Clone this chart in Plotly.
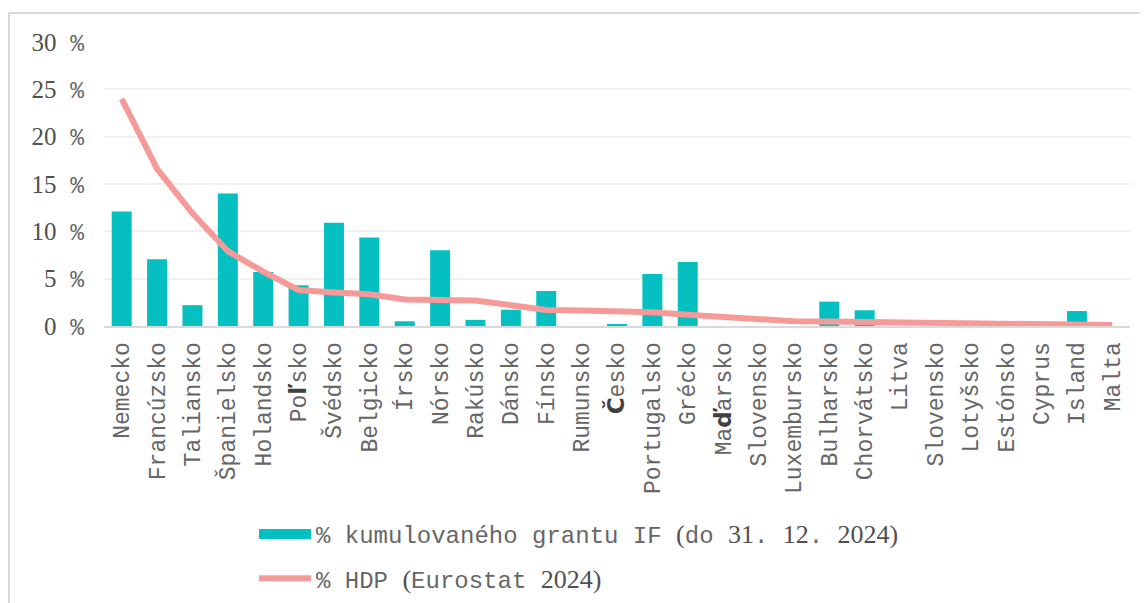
import plotly.graph_objects as go

countries = ["Nemecko", "Francúzsko", "Taliansko", "Španielsko", "Holandsko", "Poľsko",
             "Švédsko", "Belgicko", "Írsko", "Nórsko", "Rakúsko", "Dánsko", "Fínsko",
             "Rumunsko", "Česko", "Portugalsko", "Grécko", "Maďarsko", "Slovensko",
             "Luxembursko", "Bulharsko", "Chorvátsko", "Litva", "Slovensko", "Lotyšsko",
             "Estónsko", "Cyprus", "Island", "Malta"]
grant_pct = [12.1, 7.05, 2.2, 14.0, 5.7, 4.3, 10.9, 9.35, 0.5, 8.0, 0.65, 1.72, 3.7,
             0.0, 0.2, 5.5, 6.76, 0.0, 0.0, 0.0, 2.57, 1.66, 0.0, 0.0, 0.0, 0.0, 0.0,
             1.58, 0.0]
gdp_pct = [24.0, 16.6, 11.9, 7.9, 5.75, 3.8, 3.55, 3.35, 2.8, 2.75, 2.7, 2.2, 1.7,
           1.65, 1.6, 1.45, 1.2, 1.0, 0.68, 0.5, 0.47, 0.42, 0.38, 0.34, 0.28, 0.24,
           0.2, 0.16, 0.1]
y_ticks = [0, 5, 10, 15, 20, 25, 30]
legend_grant_text = "% kumulovaného grantu IF (do 31. 12. 2024)"
legend_gdp_text = "% HDP (Eurostat 2024)"

TEAL = "#06BFC0"
PINK = "#F59A98"
MONO = "Liberation Mono"
SERIF = "Liberation Serif"
TEXT = "#666666"

SERIF_CHARS = set("0123456789()")
BOLD_CHARS = set("Čďľ")


def mixed(text, serif_size=25):
    out = ""
    for ch in text:
        if ch in SERIF_CHARS:
            out += (f"<span style='font-family:{SERIF};font-size:{serif_size}px;"
                    f"fill:#505050'>{ch}</span>")
        elif ch in BOLD_CHARS:
            out += ("<span style='font-family:DejaVu Sans;font-weight:bold;"
                    f"fill:#404040'>{ch}</span>")
        else:
            out += ch
    return out


xs = list(range(len(countries)))

fig = go.Figure()
fig.add_trace(go.Bar(
    x=xs, y=grant_pct, marker=dict(color=TEAL, line=dict(width=0)),
    showlegend=False, hoverinfo="skip"))
fig.add_trace(go.Scatter(
    x=xs, y=gdp_pct, mode="lines", line=dict(color=PINK, width=6),
    showlegend=False, hoverinfo="skip"))
# legend entries
fig.add_trace(go.Scatter(
    x=[None], y=[None], mode="lines", line=dict(color=TEAL, width=12),
    name=mixed(legend_grant_text, 26), legendgroup="a"))
fig.add_trace(go.Scatter(
    x=[None], y=[None], mode="lines", line=dict(color=PINK, width=6),
    name=mixed(legend_gdp_text, 26), legendgroup="b"))

# page body has an 8px margin: work in screen pixels, shift by OFF
OFF = 8
SW, SH = 1148, 603
W, H = SW - OFF, SH - OFF
plot_left, plot_right, plot_top, plot_bottom = 104, 1130, 42, 326  # screen px
L = plot_left - OFF
R = SW - plot_right
T = plot_top - OFF
B = SH - plot_bottom
pw, ph = plot_right - plot_left, plot_bottom - plot_top


def px_x(p):
    return (p - plot_left) / pw


def px_y(p):
    return (plot_bottom - p) / ph


fig.update_layout(
    width=W, height=H,
    margin=dict(l=L, r=R, t=T, b=B, pad=0, autoexpand=False),
    paper_bgcolor="white", plot_bgcolor="white",
    bargap=0.435,
    font=dict(family=MONO, color=TEXT, size=23),
    legend=dict(
        x=px_x(254), y=px_y(512), xanchor="left", yanchor="top",
        orientation="v", traceorder="grouped", tracegroupgap=10,
        font=dict(family=MONO, size=24, color=TEXT),
        itemwidth=52, bgcolor="rgba(0,0,0,0)",
    ),
    xaxis=dict(
        range=[-0.5, len(countries) - 0.5], automargin=False,
        tickmode="array", tickvals=xs, ticktext=[mixed(c) for c in countries],
        tickangle=-90, tickfont=dict(family=MONO, size=23, color=TEXT),
        showgrid=False, showline=True, linecolor="#D9D9D9", linewidth=2,
        ticks="", zeroline=False, ticklabelstandoff=5,
    ),
    yaxis=dict(
        range=[0, 30], tickmode="array", tickvals=y_ticks, automargin=False,
        ticktext=[f"{v}<span style='font-family:{MONO};font-size:23px;fill:{TEXT}'> %</span>"
                  for v in y_ticks],
        tickfont=dict(family=SERIF, size=25, color="#505050"),
        showgrid=True, gridcolor="#F0F0F0", gridwidth=2,
        zeroline=False, showline=False, ticks="", ticklabelstandoff=19,
    ),
    shapes=[dict(type="rect", xref="paper", yref="paper",
                 x0=px_x(9), x1=px_x(1200), y0=px_y(700), y1=px_y(13),
                 line=dict(color="#D9D9D9", width=2), fillcolor="rgba(0,0,0,0)",
                 layer="below")],
)

fig.write_html("out.html")
